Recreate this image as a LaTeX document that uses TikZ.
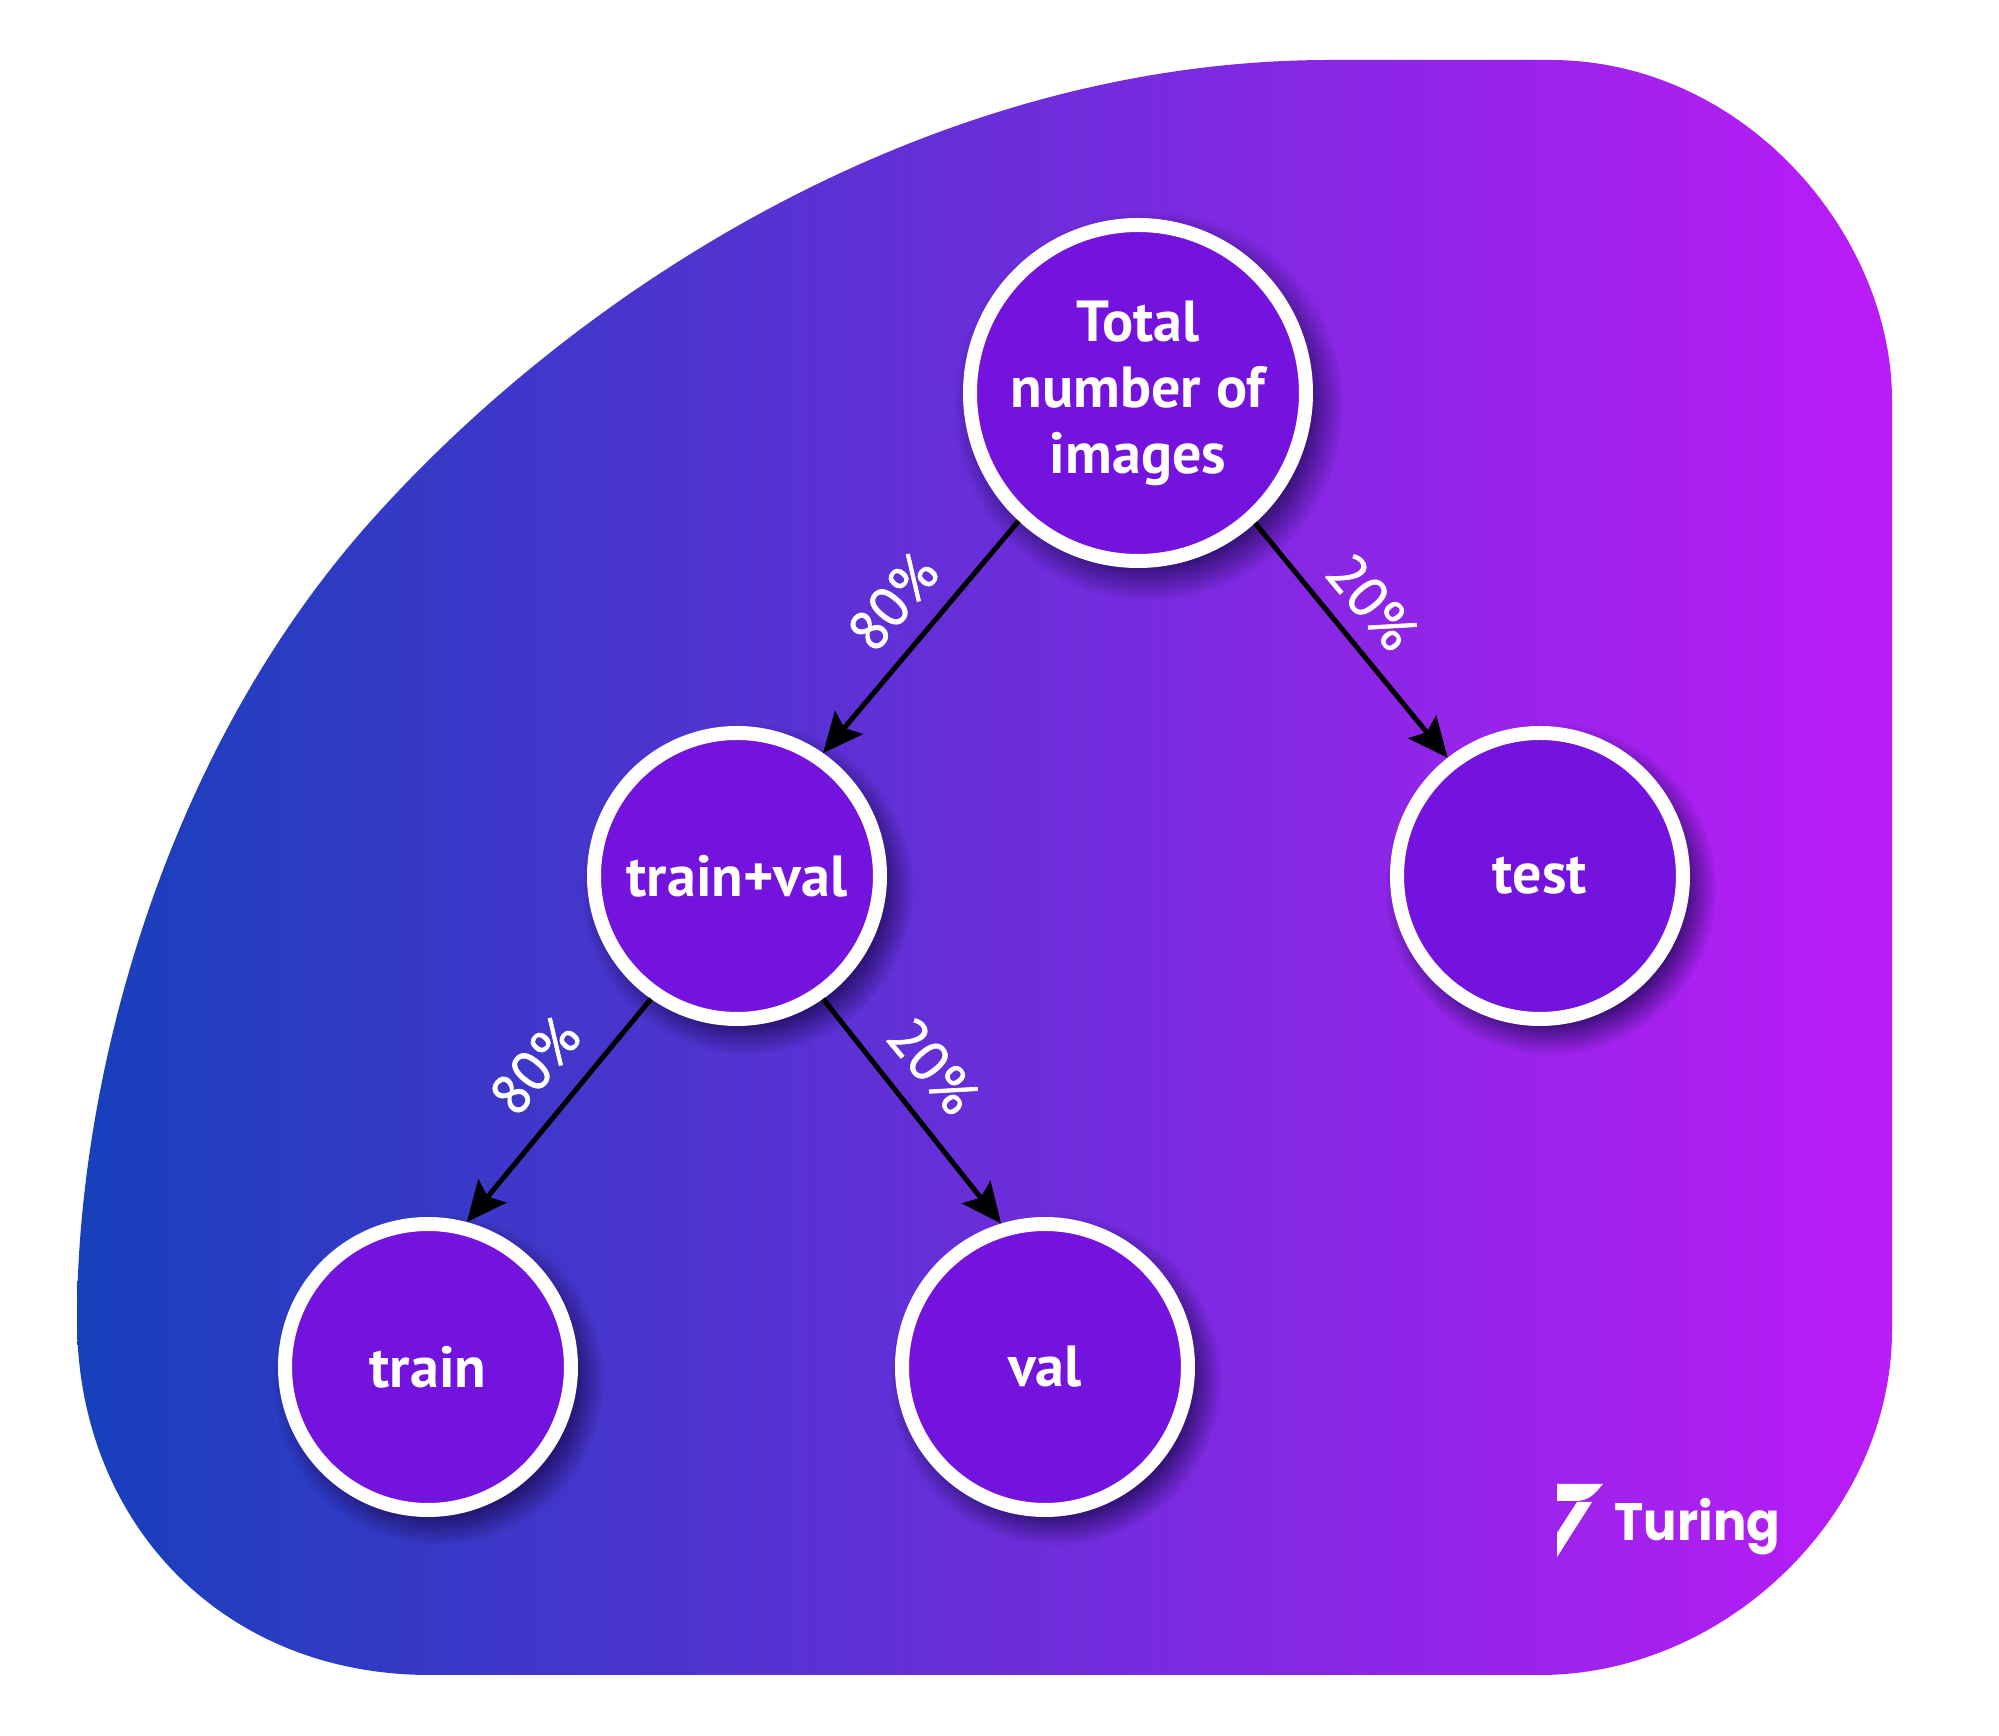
\documentclass[tikz,border=0pt]{standalone}
\usepackage{fontspec}
\setmainfont{PT Sans}
\newfontfamily\pctfont{PT Sans}[FakeBold=1.2]
\newfontfamily\logofont{Poppins}
\usepackage{xcolor}
\usetikzlibrary{arrows.meta,shadows,fadings}
\definecolor{blobleft}{HTML}{1740BB}
\definecolor{blobright}{HTML}{BB1CF7}
\definecolor{nodefill}{HTML}{7412DE}
\definecolor{shadowcol}{HTML}{1A0A50}
\begin{document}
\begin{tikzpicture}[
  inode/.style={circle,draw=white,line width=1.4mm,fill=nodefill,inner sep=0,
    text=white,align=center,font=\fontsize{16.5}{18.8}\selectfont\bfseries,
    general shadow={shadow xshift=0.9mm,shadow yshift=-1.1mm,shadow scale=1.16,
      fill=shadowcol,opacity=.75,path fading=circle with fuzzy edge 20 percent}},
  bignode/.style={inode,minimum size=33.6mm},
  smallnode/.style={inode,minimum size=28.6mm},
  split/.style={line width=.5mm,draw=black,-{Stealth[length=4mm,width=3.6mm,inset=.7mm]}},
  pct/.style={text=white,font=\fontsize{16}{19}\pctfont}]
\useasboundingbox (0,0) rectangle (19.99,-17.36);
\shade[left color=blobleft,right color=blobright]
  (15.5,-0.6) .. controls (17.45,-0.6) and (18.92,-2.35) .. (18.92,-4.0)
  -- (18.92,-13.3) .. controls (18.92,-15.15) and (17.25,-16.75) .. (15.4,-16.75)
  -- (4.3,-16.75) .. controls (2.2,-16.75) and (0.77,-15.2) .. (0.77,-13.2)
  .. controls (0.77,-10.8) and (1.63,-7.48) .. (3.79,-5.12)
  .. controls (5.9,-2.8) and (9.4,-0.6) .. (13.3,-0.6) -- cycle;
\node[bignode] (total) at (11.38,-3.93) {Total\\number of\\images};
\node[smallnode] (trainval) at (7.37,-8.76) {train+val};
\node[smallnode] (test) at (15.40,-8.76) {test};
\node[smallnode] (train) at (4.28,-13.67) {train};
\node[smallnode] (val) at (10.45,-13.67) {val};
\draw[split] (total.227) -- (trainval.55);
\draw[split] (total.-48) -- (test.128);
\draw[split] (trainval.235) -- (train.75);
\draw[split] (trainval.-55) -- (val.107);
\node[pct,rotate=50] (p1) at (8.93,-6.02) {80\%};
\node[pct,rotate=-50] (p2) at (13.72,-6.02) {20\%};
\node[pct,rotate=50] (p3) at (5.35,-10.66) {80\%};
\node[pct,rotate=-50] (p4) at (9.33,-10.66) {20\%};
\fill[white] (15.57,-14.84) -- (16.03,-14.84) .. controls (15.95,-14.93) and (15.9,-15.01) .. (15.75,-15.01) -- (15.57,-15.01) -- cycle;
\fill[white] (15.77,-15.02) -- (15.92,-15.02) -- (15.57,-15.57) -- (15.57,-15.33) -- cycle;
\node[text=white,anchor=base west,inner sep=0,font=\fontsize{15}{18}\logofont\bfseries] (logo) at (16.14,-15.41) {\scalebox{.94}[1]{Turing}};
\end{tikzpicture}
\end{document}
